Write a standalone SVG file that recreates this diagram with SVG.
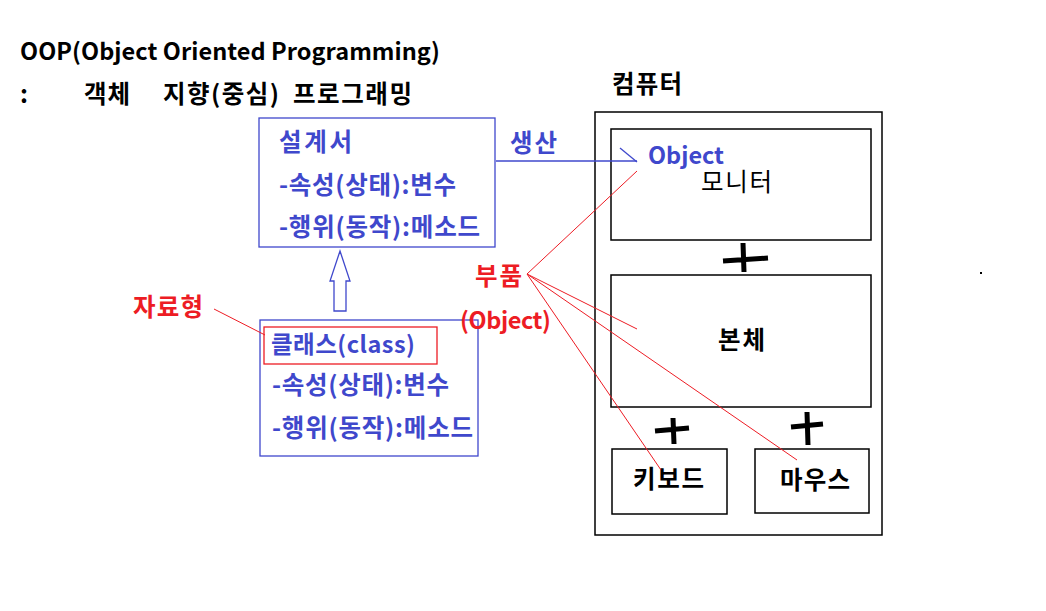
<svg xmlns="http://www.w3.org/2000/svg" width="1046" height="611" viewBox="0 0 1046 611">
<style>
text{font-family:"Noto Sans CJK KR","Noto Sans",sans-serif;font-weight:bold;font-size:24.5px}
.lat{font-size:23.5px}
.k{fill:#000}
.b{fill:#3f48cc}
.r{fill:#ed1c24}
.bx{fill:none;stroke:#000;stroke-width:1.5}
.bb{fill:none;stroke:#3f48cc;stroke-width:1.3}
.rl{fill:none;stroke:#ed1c24;stroke-width:1}
.pl{fill:none;stroke:#000;stroke-width:5;stroke-linecap:butt}
</style>
<rect width="1046" height="611" fill="#fff"/>
<g id="title">
<text class="k lat" x="20" y="60" textLength="420">OOP(Object Oriented Programming)</text>
<text class="k" x="20" y="103">:</text>
<text class="k" x="84" y="103" textLength="46">객체</text>
<text class="k" x="163" y="103" textLength="116">지향(중심)</text>
<text class="k" x="293" y="103" textLength="119">프로그래밍</text>
</g>
<g id="design">
<rect class="bb" x="259" y="118" width="236" height="129"/>
<text class="b" x="279" y="151" textLength="73">설계서</text>
<text class="b" x="279" y="194" textLength="177">-속성(상태):변수</text>
<text class="b" x="279" y="236" textLength="201">-행위(동작):메소드</text>
</g>
<g id="class">
<rect class="bb" x="260" y="320" width="218" height="136"/>
<rect fill="none" stroke="#ed1c24" stroke-width="1.3" x="264" y="327" width="173" height="37"/>
<text class="b lat" x="271" y="353" textLength="144">클래스(class)</text>
<text class="b" x="272" y="394" textLength="177">-속성(상태):변수</text>
<text class="b" x="272" y="437" textLength="201">-행위(동작):메소드</text>
</g>
<g id="labels">
<text class="b" x="510" y="152" textLength="47">생산</text>
<text class="r" x="133" y="316" textLength="70">자료형</text>
<text class="r" x="475" y="285" textLength="47">부품</text>
<text class="r lat" x="460" y="329" textLength="91">(Object)</text>
</g>
<g id="computer">
<text class="k" x="612" y="93" textLength="70">컴퓨터</text>
<rect class="bx" x="595" y="112" width="287" height="423"/>
</g>
<g id="monitor">
<rect class="bx" x="611" y="129" width="260" height="111"/>
<text class="b lat" x="648" y="164" textLength="76">Object</text>
<text class="k" x="701" y="191" textLength="71" style="font-weight:normal">모니터</text>
</g>
<g id="body">
<rect class="bx" x="611" y="275" width="260" height="132"/>
<text class="k" x="718" y="349" textLength="47">본체</text>
</g>
<g id="keyboard">
<rect class="bx" x="612" y="449" width="115" height="65"/>
<text class="k" x="633" y="488" textLength="71">키보드</text>
</g>
<g id="mouse">
<rect class="bx" x="755" y="449" width="114" height="64"/>
<text class="k" x="780" y="489" textLength="70">마우스</text>
</g>
<g id="connectors">
<line class="bb" x1="496" y1="161" x2="637" y2="161"/>
<line class="bb" x1="620" y1="148" x2="637" y2="162"/>
<path class="bb" d="M340,251 L350,281 L346,281 L346,311 L334,311 L334,281 L330,281 Z"/>
<line class="rl" x1="214" y1="309" x2="265" y2="335"/>
<line class="rl" x1="527" y1="274" x2="637" y2="171"/>
<line class="rl" x1="527" y1="274" x2="637" y2="329"/>
<line class="rl" x1="527" y1="274" x2="797" y2="460"/>
<line class="rl" x1="527" y1="274" x2="661" y2="470"/>
<path class="pl" d="M723,261 L768,258 M743,243 L744,272"/>
<path class="pl" d="M655,431 L689,428 M673,418 L674,444"/>
<path class="pl" d="M791,427 L823,424 M807,412 L808,445"/>
</g>
<rect x="980" y="272" width="2" height="2" fill="#000"/>
</svg>
